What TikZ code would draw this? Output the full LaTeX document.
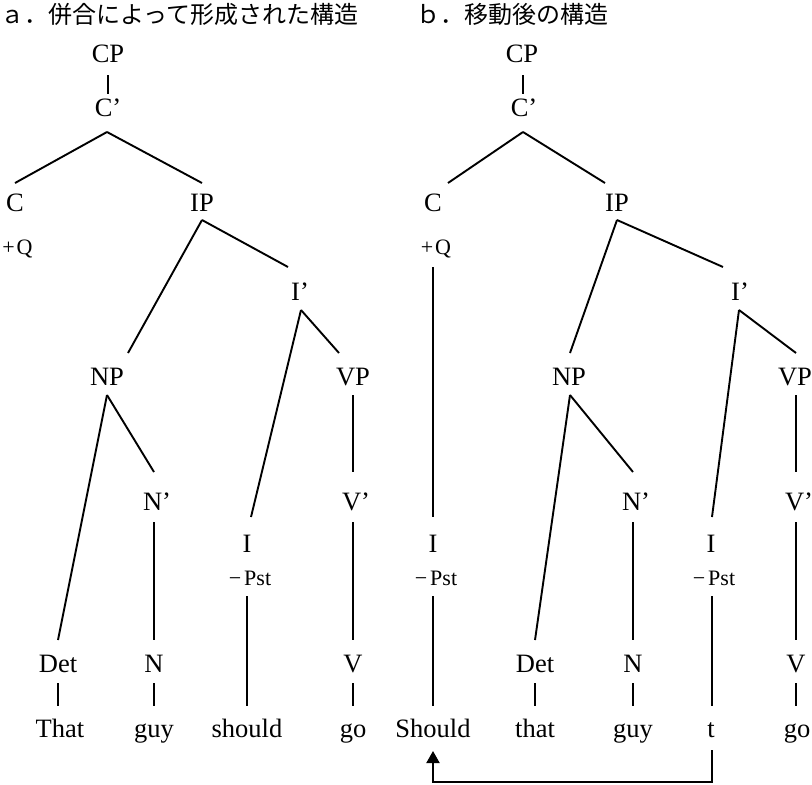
\documentclass[tikz,border=0pt]{standalone}
\usepackage{fontspec}
\setmainfont{Liberation Serif}
\newfontfamily\jp{Noto Sans CJK JP}
\usetikzlibrary{arrows.meta}
\tikzset{
  lbl/.style={anchor=base, inner sep=0pt, font=\fontsize{26.5}{30}\selectfont},
  feat/.style={anchor=base, inner sep=0pt, font=\fontsize{22}{26}\selectfont},
  hdr/.style={anchor=base west, inner sep=0pt, font=\jp\fontsize{24}{28}\selectfont},
  br/.style={line width=1.9pt},
}
\begin{document}
\begin{tikzpicture}[x=1pt,y=-1pt]
\useasboundingbox (0,0) rectangle (812,785);
% headers
\node[hdr] (hA) at (0,23) {ａ．併合によって形成された構造};
\node[hdr] (hB) at (416,23) {ｂ．移動後の構造};
% ---------- tree a ----------
\node[lbl] (aCP) at (108,62) {CP};
\node[lbl] (aCb) at (108,116) {C’};
\node[lbl] (aC) at (15,211) {C};
\node[lbl] (aIP) at (202,211) {IP};
\node[feat] (aQ) at (17.5,254) {+\hspace{2pt}Q};
\node[lbl] (aIb) at (300,300) {I’};
\node[lbl] (aNP) at (107,385) {NP};
\node[lbl] (aVP) at (353,385) {VP};
\node[lbl] (aNb) at (157,510) {N’};
\node[lbl] (aVb) at (356,510) {V’};
\node[lbl] (aI) at (247,552) {I};
\node[feat] (aPst) at (250,585) {−\hspace{3pt}Pst};
\node[lbl] (aDet) at (58,672) {Det};
\node[lbl] (aN) at (154,672) {N};
\node[lbl] (aV) at (353,672) {V};
\node[lbl] (aThat) at (60,737) {That};
\node[lbl] (aguy) at (154,737) {guy};
\node[lbl] (ashould) at (247,737) {should};
\node[lbl] (ago) at (353,737) {go};
\draw[br] ([shift={(0,13)}]aCP.base) -- ([shift={(0,-22)}]aCb.base);
\draw[br] ([shift={(-1,16)}]aCb.base) -- ([shift={(0,-28)}]aC.base);
\draw[br] ([shift={(-1,16)}]aCb.base) -- ([shift={(0,-28)}]aIP.base);
\draw[br] ([shift={(0,9)}]aIP.base) -- ([shift={(21,-32)}]aNP.base);
\draw[br] ([shift={(0,9)}]aIP.base) -- ([shift={(-12,-33)}]aIb.base);
\draw[br] ([shift={(1,10)}]aIb.base) -- ([shift={(4,-35)}]aI.base);
\draw[br] ([shift={(1,10)}]aIb.base) -- ([shift={(-14,-32)}]aVP.base);
\draw[br] ([shift={(0,10)}]aNP.base) -- ([shift={(0,-32)}]aDet.base);
\draw[br] ([shift={(0,10)}]aNP.base) -- ([shift={(-3,-38)}]aNb.base);
\draw[br] ([shift={(0,10)}]aVP.base) -- ([shift={(-3,-38)}]aVb.base);
\draw[br] ([shift={(-3,12)}]aNb.base) -- ([shift={(0,-32)}]aN.base);
\draw[br] ([shift={(-3,12)}]aVb.base) -- ([shift={(0,-32)}]aV.base);
\draw[br] ([shift={(-3,11)}]aPst.base) -- ([shift={(0,-31)}]ashould.base);
\draw[br] ([shift={(0,11)}]aDet.base) -- ([shift={(-2,-31)}]aThat.base);
\draw[br] ([shift={(0,11)}]aN.base) -- ([shift={(0,-31)}]aguy.base);
\draw[br] ([shift={(0,11)}]aV.base) -- ([shift={(0,-31)}]ago.base);
% ---------- tree b ----------
\node[lbl] (bCP) at (522,62) {CP};
\node[lbl] (bCb) at (524,116) {C’};
\node[lbl] (bC) at (433,211) {C};
\node[lbl] (bIP) at (617,211) {IP};
\node[feat] (bQ) at (436,254) {+\hspace{2pt}Q};
\node[lbl] (bIb) at (740,300) {I’};
\node[lbl] (bNP) at (569,385) {NP};
\node[lbl] (bVP) at (795,385) {VP};
\node[lbl] (bNb) at (636,510) {N’};
\node[lbl] (bVb) at (799,510) {V’};
\node[lbl] (bIa) at (433,552) {I};
\node[feat] (bPsta) at (436,585) {−\hspace{3pt}Pst};
\node[lbl] (bIc) at (711,552) {I};
\node[feat] (bPstc) at (714,585) {−\hspace{3pt}Pst};
\node[lbl] (bDet) at (535,672) {Det};
\node[lbl] (bN) at (633,672) {N};
\node[lbl] (bV) at (796,672) {V};
\node[lbl] (bShould) at (433,737) {Should};
\node[lbl] (bthat) at (535,737) {that};
\node[lbl] (bguy) at (633,737) {guy};
\node[lbl] (bt) at (711,737) {t};
\node[lbl] (bgo) at (797,737) {go};
\draw[br] ([shift={(1,13)}]bCP.base) -- ([shift={(-1,-22)}]bCb.base);
\draw[br] ([shift={(-1,16)}]bCb.base) -- ([shift={(15,-28)}]bC.base);
\draw[br] ([shift={(-1,16)}]bCb.base) -- ([shift={(-12,-28)}]bIP.base);
\draw[br] ([shift={(0,9)}]bIP.base) -- ([shift={(1,-32)}]bNP.base);
\draw[br] ([shift={(0,9)}]bIP.base) -- ([shift={(-17,-33)}]bIb.base);
\draw[br] ([shift={(-1,10)}]bIb.base) -- ([shift={(1,-35)}]bIc.base);
\draw[br] ([shift={(-1,10)}]bIb.base) -- ([shift={(1,-32)}]bVP.base);
\draw[br] ([shift={(1,10)}]bNP.base) -- ([shift={(0,-32)}]bDet.base);
\draw[br] ([shift={(1,10)}]bNP.base) -- ([shift={(-3,-38)}]bNb.base);
\draw[br] ([shift={(1,10)}]bVP.base) -- ([shift={(-3,-38)}]bVb.base);
\draw[br] ([shift={(-3,12)}]bNb.base) -- ([shift={(0,-32)}]bN.base);
\draw[br] ([shift={(-3,12)}]bVb.base) -- ([shift={(0,-32)}]bV.base);
\draw[br] ([shift={(-3,13)}]bQ.base) -- ([shift={(0,-35)}]bIa.base);
\draw[br] ([shift={(-3,11)}]bPsta.base) -- ([shift={(0,-31)}]bShould.base);
\draw[br] ([shift={(-2,11)}]bPstc.base) -- ([shift={(1,-31)}]bt.base);
\draw[br] ([shift={(0,11)}]bDet.base) -- ([shift={(0,-31)}]bthat.base);
\draw[br] ([shift={(0,11)}]bN.base) -- ([shift={(0,-31)}]bguy.base);
\draw[br] ([shift={(0,11)}]bV.base) -- ([shift={(-1,-31)}]bgo.base);
% movement arrow
\draw[br, -{Triangle[width=13pt,length=12pt]}] ([shift={(1,13)}]bt.base) -- ++(0,32) -| ([shift={(0,14)}]bShould.base);
\end{tikzpicture}
\end{document}
